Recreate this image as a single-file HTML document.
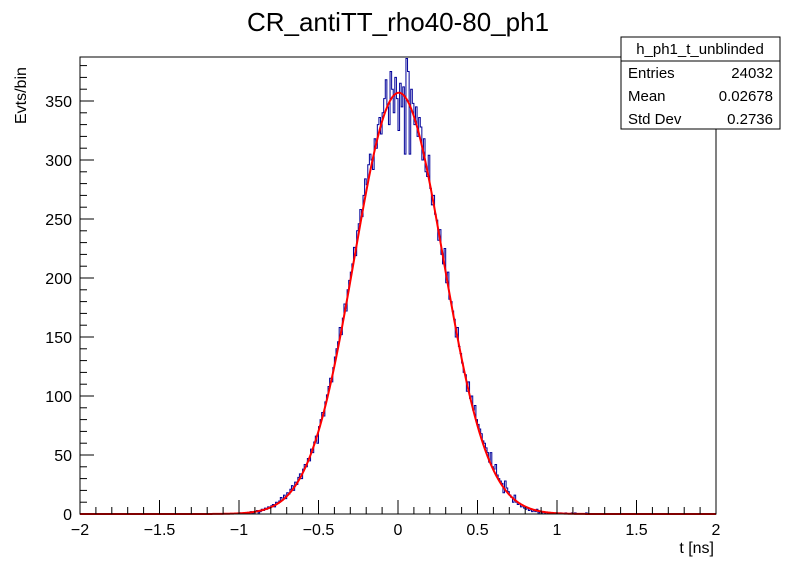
<!DOCTYPE html>
<html><head><meta charset="utf-8"><style>
body{margin:0;background:#fff;}
svg{display:block;font-family:"Liberation Sans",sans-serif;}
</style></head><body>
<svg id="c" width="796" height="572" xmlns="http://www.w3.org/2000/svg">
<rect width="796" height="572" fill="#fff"/>
<text x="398" y="31" font-size="26" text-anchor="middle">CR_antiTT_rho40-80_ph1</text>
<g id="plot"></g>
<rect x="80" y="57" width="636" height="457" fill="none" stroke="#000" stroke-width="1"/>
<g id="axes"></g>
<text x="714" y="553" font-size="16" text-anchor="end">t [ns]</text>
<text transform="translate(26,124) rotate(-90)" font-size="16">Evts/bin</text>
<g>
<rect x="621" y="37" width="159" height="92" fill="#fff" stroke="#000"/>
<line x1="621" y1="61" x2="780" y2="61" stroke="#000"/>
<text x="700" y="54" font-size="15" text-anchor="middle">h_ph1_t_unblinded</text>
<text x="628" y="78" font-size="15">Entries</text>
<text x="773" y="78" font-size="15" text-anchor="end">24032</text>
<text x="628" y="101" font-size="15">Mean</text>
<text x="773" y="101" font-size="15" text-anchor="end">0.02678</text>
<text x="628" y="124" font-size="15">Std Dev</text>
<text x="773" y="124" font-size="15" text-anchor="end">0.2736</text>
</g>
</svg>
<script>
const binStart = -1.0;
const binWidth = 0.01;
const counts = [1,0,0,1,0, 0,1,2,1,0, 2,3,1,2,4, 3,5,4,6,5, 7,8,6,10,9, 11,14,12,16,13, 18,17,21,24,20, 27,25,31,34,30, 38,42,40,47,45, 55,52,61,66,60, 74,80,86,83,95, 101,108,115,112,124, 133,140,146,158,152, 166,178,172,190,198, 205,212,226,219,240, 246,258,252,270,284, 279,296,305,300,292, 318,310,330,336,322, 340,352,368,345,330, 375,360,340,370,352, 325,365,345,362,305, 386,375,305,360,348, 330,345,320,336,328, 300,318,290,286,304, 276,262,270,254,249, 232,241,220,212,225, 196,205,182,180,172, 165,150,158,142,136, 128,120,118,104,112, 98,100,88,92,80, 76,72,68,62,60, 56,52,44,52,40, 38,42,33,30,28, 26,18,28,22,19, 16,14,10,16,10, 8,9,6,7,5, 4,5,3,4,2, 3,2,4,1,2, 1,2,1,0,1, 0,1,0,0,1, 0,0,1,0,0, 1,0,0,0,1, 0,1,0,0,0, 0,0,0,1,0];
const fitAmp = 357;
const fitMean = 0.005;
const fitSigma = 0.28;
const xTicks = [-2,-1.5,-1,-0.5,0,0.5,1,1.5,2];
const xTickLabels = ["\u22122","\u22121.5","\u22121","\u22120.5","0","0.5","1","1.5","2"];
const yTicks = [0,50,100,150,200,250,300,350];
const yTickLabels = ["0","50","100","150","200","250","300","350"];

const NS="http://www.w3.org/2000/svg";
const X=v=>80+(v+2)*159;
const Y=v=>514-v*1.18;
function mk(tag,attrs,parent){const e=document.createElementNS(NS,tag);for(const k in attrs)e.setAttribute(k,attrs[k]);parent.appendChild(e);return e;}
const plot=document.getElementById('plot');
const axes=document.getElementById('axes');

let d=`M${X(-2)},${Y(0)} L${X(binStart)},${Y(0)}`;
counts.forEach((c,i)=>{const x0=binStart+i*binWidth;d+=` L${X(x0).toFixed(2)},${Y(Math.min(c,387)).toFixed(2)} L${X(x0+binWidth).toFixed(2)},${Y(Math.min(c,387)).toFixed(2)}`;});
d+=` L${X(binStart+counts.length*binWidth)},${Y(0)} L${X(2)},${Y(0)}`;
const h=mk('path',{d:d,fill:'none',stroke:'#000099','stroke-width':1},plot);



let f='';
for(let i=0;i<=800;i++){const x=-2+i*0.005;const v=fitAmp*Math.exp(-Math.pow(x-fitMean,2)/(2*fitSigma*fitSigma));f+=(i?' L':'M')+X(x).toFixed(2)+','+Y(v).toFixed(2);}
const fl=mk('path',{d:f,fill:'none',stroke:'#ff0000','stroke-width':2},plot);



for(let i=0;i<=40;i++){const v=-2+i*0.1;const major=i%5===0;mk('line',{x1:X(v),x2:X(v),y1:514,y2:514-(major?14:7),stroke:'#000'},axes);}
xTicks.forEach((v,i)=>{const t=mk('text',{x:X(v),y:535,'font-size':16,'text-anchor':'middle'},axes);t.textContent=xTickLabels[i];

});
for(let v=0;v<=380;v+=10){const major=v%50===0;mk('line',{x1:80,x2:80+(major?14:7),y1:Y(v),y2:Y(v),stroke:'#000'},axes);}
yTicks.forEach((v,i)=>{const t=mk('text',{x:72,y:Y(v)+6,'font-size':16,'text-anchor':'end'},axes);t.textContent=yTickLabels[i];

});
</script>
</body></html>
